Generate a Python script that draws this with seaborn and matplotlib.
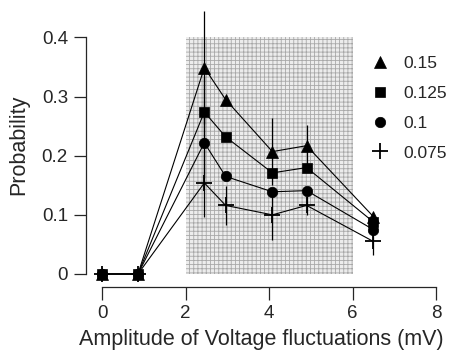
import matplotlib
matplotlib.use("Agg")
import matplotlib.pyplot as plt
from matplotlib.lines import Line2D
import seaborn as sns
import pandas as pd

# amplitude of voltage fluctuations (mV)
amplitude = [0, 0.86, 2.45, 2.96, 4.08, 4.9, 6.5]

# probability for each noise level
p_015 = [0, 0, 0.349, 0.295, 0.207, 0.217, 0.097]
p_0125 = [0, 0, 0.274, 0.232, 0.171, 0.180, 0.088]
p_01 = [0, 0, 0.222, 0.165, 0.139, 0.141, 0.075]
p_0075 = [0, 0, 0.154, 0.116, 0.100, 0.116, 0.055]

# error bar half-lengths
err_015 = [0, 0, 0.095, 0.0, 0.057, 0.035, 0.0]
err_0125 = [0, 0, 0.060, 0.0, 0.0, 0.0, 0.0]
err_01 = [0, 0, 0.060, 0.0, 0.0, 0.0, 0.0]
err_0075 = [0, 0, 0.057, 0.033, 0.042, 0.016, 0.023]

levels = ["0.15", "0.125", "0.1", "0.075"]
values = [p_015, p_0125, p_01, p_0075]
errors = [err_015, err_0125, err_01, err_0075]
markers = {"0.15": "^", "0.125": "s", "0.1": "o", "0.075": "+"}
msizes = {"0.15": 9, "0.125": 7, "0.1": 7.5, "0.075": 12}

frames = []
for lev, vals in zip(levels, values):
    frames.append(pd.DataFrame({"amp": amplitude, "prob": vals, "level": lev}))
df = pd.concat(frames, ignore_index=True)

sns.set_style("ticks")
plt.rcParams["font.family"] = ["Liberation Sans", "DejaVu Sans"]
plt.rcParams["hatch.linewidth"] = 0.6

fig = plt.figure(figsize=(4.55, 3.58), dpi=100)
ax = fig.add_axes([86 / 455, 1 - 287 / 358, 350 / 455, 285 / 358])

# shaded stimulus range
ax.fill_between([2, 6], 0, 0.4, facecolor="#ececec", edgecolor="#a8a8a8",
                hatch="++++", linewidth=0, zorder=0)

for lev, vals, errs in zip(levels, values, errors):
    ax.errorbar(amplitude, vals, yerr=errs, fmt="none", ecolor="black",
                elinewidth=0.9, capsize=0, zorder=2)

for lev in levels:
    sub = df[df["level"] == lev]
    sns.lineplot(data=sub, x="amp", y="prob", ax=ax, color="black",
                 linewidth=0.8, marker=markers[lev], markersize=msizes[lev],
                 markeredgecolor="black", markerfacecolor="black",
                 markeredgewidth=1.3 if lev == "0.075" else 0.5,
                 legend=False, zorder=3)

ax.set_xlim(-0.385, 8.0)
ax.set_ylim(-0.022, 0.46)
ax.set_xticks([0, 2, 4, 6, 8])
ax.set_xticklabels(["0", "2", "4", "6", "8"])
ax.set_yticks([0, 0.1, 0.2, 0.3, 0.4])
ax.set_yticklabels(["0", "0.1", "0.2", "0.3", "0.4"])
ax.spines["left"].set_bounds(0, 0.4)
ax.spines["bottom"].set_bounds(0, 8)
sns.despine(ax=ax)
ax.tick_params(direction="out", length=9, width=0.9, labelsize=13.5, pad=4)
for s in ["left", "bottom"]:
    ax.spines[s].set_linewidth(0.9)

ax.set_xlabel("Amplitude of Voltage fluctuations (mV)", fontsize=15.5, labelpad=5)
ax.set_ylabel("Probability", fontsize=15.5, labelpad=9)

handles = [Line2D([], [], linestyle="none", marker=markers[l], color="black",
                  markersize=msizes[l], markeredgewidth=1.3 if l == "0.075" else 0.5)
           for l in levels]
ax.legend(handles, levels, loc="upper left", bbox_to_anchor=(356 / 455, 1 - 40 / 358),
          bbox_transform=fig.transFigure, frameon=False, fontsize=12.5,
          handlelength=1.0, handletextpad=0.8, labelspacing=0.85)

fig.savefig("out.png", dpi=100)
